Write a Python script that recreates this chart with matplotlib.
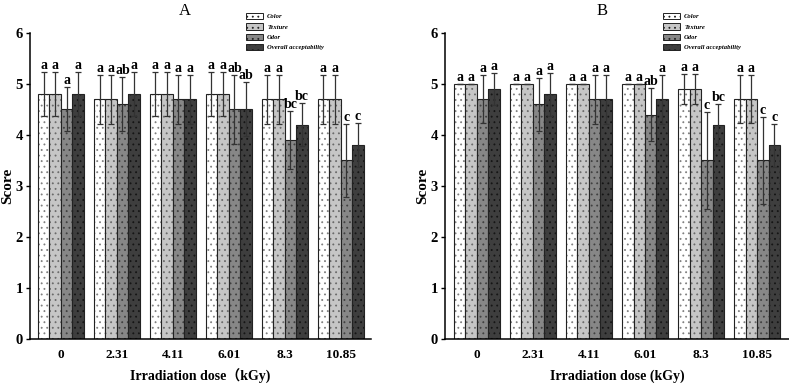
import matplotlib
matplotlib.use("Agg")
import matplotlib.pyplot as plt
from matplotlib.patches import Patch
import numpy as np

# irradiation doses (kGy)
doses = ["0", "2.31", "4.11", "6.01", "8.3", "10.85"]
series = ["Color", "Texture", "Odor", "Overall acceptability"]

# panel A
a_color = [4.8, 4.7, 4.8, 4.8, 4.7, 4.7]
a_color_err = [0.43, 0.48, 0.43, 0.43, 0.48, 0.48]
a_texture = [4.8, 4.7, 4.8, 4.8, 4.7, 4.7]
a_texture_err = [0.43, 0.48, 0.43, 0.43, 0.48, 0.48]
a_odor = [4.5, 4.6, 4.7, 4.5, 3.9, 3.5]
a_odor_err = [0.43, 0.53, 0.48, 0.68, 0.56, 0.72]
a_overall = [4.8, 4.8, 4.7, 4.5, 4.2, 3.8]
a_overall_err = [0.43, 0.43, 0.48, 0.53, 0.42, 0.43]
a_letters = [
    ["a", "a", "a", "a", "a", "a"],
    ["a", "a", "a", "a", "a", "a"],
    ["a", "ab", "a", "ab", "bc", "c"],
    ["a", "a", "a", "ab", "bc", "c"],
]

# panel B
b_color = [5.0, 5.0, 5.0, 5.0, 4.9, 4.7]
b_color_err = [0, 0, 0, 0, 0.29, 0.47]
b_texture = [5.0, 5.0, 5.0, 5.0, 4.9, 4.7]
b_texture_err = [0, 0, 0, 0, 0.29, 0.47]
b_odor = [4.7, 4.6, 4.7, 4.4, 3.5, 3.5]
b_odor_err = [0.47, 0.52, 0.48, 0.52, 0.95, 0.85]
b_overall = [4.9, 4.8, 4.7, 4.7, 4.2, 3.8]
b_overall_err = [0.31, 0.42, 0.48, 0.48, 0.41, 0.42]
b_letters = [
    ["a", "a", "a", "a", "a", "a"],
    ["a", "a", "a", "a", "a", "a"],
    ["a", "a", "a", "ab", "c", "c"],
    ["a", "a", "a", "a", "bc", "c"],
]

fills = ["#ffffff", "#c6c6c6", "#878787", "#3e3e3e"]
dots = ["#808080", "#6a6a6a", "#404040", "#151515"]

plt.rcParams["font.family"] = ["Liberation Serif", "Noto Sans CJK SC"]
plt.rcParams["hatch.linewidth"] = 0.6


def panel(ax, vals, errs, letters, title, xlabel, xlim):
    x = np.arange(len(doses))
    w = 0.205
    for i in range(4):
        pos = x + (i - 1.5) * w
        ax.bar(pos, vals[i], w, color=fills[i], edgecolor=dots[i], hatch="...",
               linewidth=0)
        ax.bar(pos, vals[i], w, fill=False, edgecolor="#222222", linewidth=0.8)
        ax.errorbar(pos, vals[i], yerr=errs[i], fmt="none", ecolor="#333333",
                    elinewidth=0.9, capsize=2.5, capthick=0.9)
        for j in range(len(doses)):
            ax.annotate(letters[i][j], (pos[j], vals[i][j] + errs[i][j]),
                        xytext=(0, 0), textcoords="offset points",
                        ha="center", va="bottom", fontsize=10, fontweight="bold")

    ax.set_xlim(xlim)
    ax.set_ylim(0, 6)
    ax.set_xticks(x)
    ax.set_xticklabels(doses, fontsize=9.5, fontweight="bold")
    ax.set_yticks(range(7))
    ax.set_yticklabels([str(v) for v in range(7)], fontsize=10.5, fontweight="bold")
    ax.tick_params(axis="x", length=0, pad=7)
    ax.tick_params(axis="y", length=3, width=1, pad=2)
    ax.spines["top"].set_visible(False)
    ax.spines["right"].set_visible(False)
    ax.spines["left"].set_linewidth(1.1)
    ax.spines["bottom"].set_linewidth(1.1)
    ax.set_ylabel("Score", fontsize=11, fontweight="bold")
    ax.yaxis.set_label_coords(-0.047, 0.5)
    ax.set_xlabel(xlabel, fontsize=10, fontweight="bold", labelpad=6)
    ax.set_title(title, fontsize=12, x=0.455, pad=13)
    handles = [Patch(facecolor=fills[i], edgecolor="#222222", hatch="...",
                     linewidth=0.7, label=series[i]) for i in range(4)]
    ax.legend(handles=handles, loc="upper left", bbox_to_anchor=(0.635, 1.065),
              frameon=False, prop={"style": "italic", "weight": "bold", "size": 4.8},
              handlelength=2.5, handleheight=1.05, labelspacing=0.6,
              handletextpad=0.6, borderpad=0, borderaxespad=0)


fig = plt.figure(figsize=(7.89, 3.87), dpi=100)
ax1 = fig.add_axes([0.038, 0.124, 0.432, 0.791])
ax2 = fig.add_axes([0.564, 0.124, 0.436, 0.791])

panel(ax1, [a_color, a_texture, a_odor, a_overall],
      [a_color_err, a_texture_err, a_odor_err, a_overall_err],
      a_letters, "A", "Irradiation dose\uff08kGy)", (-0.55, 5.54))
panel(ax2, [b_color, b_texture, b_odor, b_overall],
      [b_color_err, b_texture_err, b_odor_err, b_overall_err],
      b_letters, "B", "Irradiation dose (kGy)", (-0.57, 5.57))

plt.savefig("out.png", dpi=100)
